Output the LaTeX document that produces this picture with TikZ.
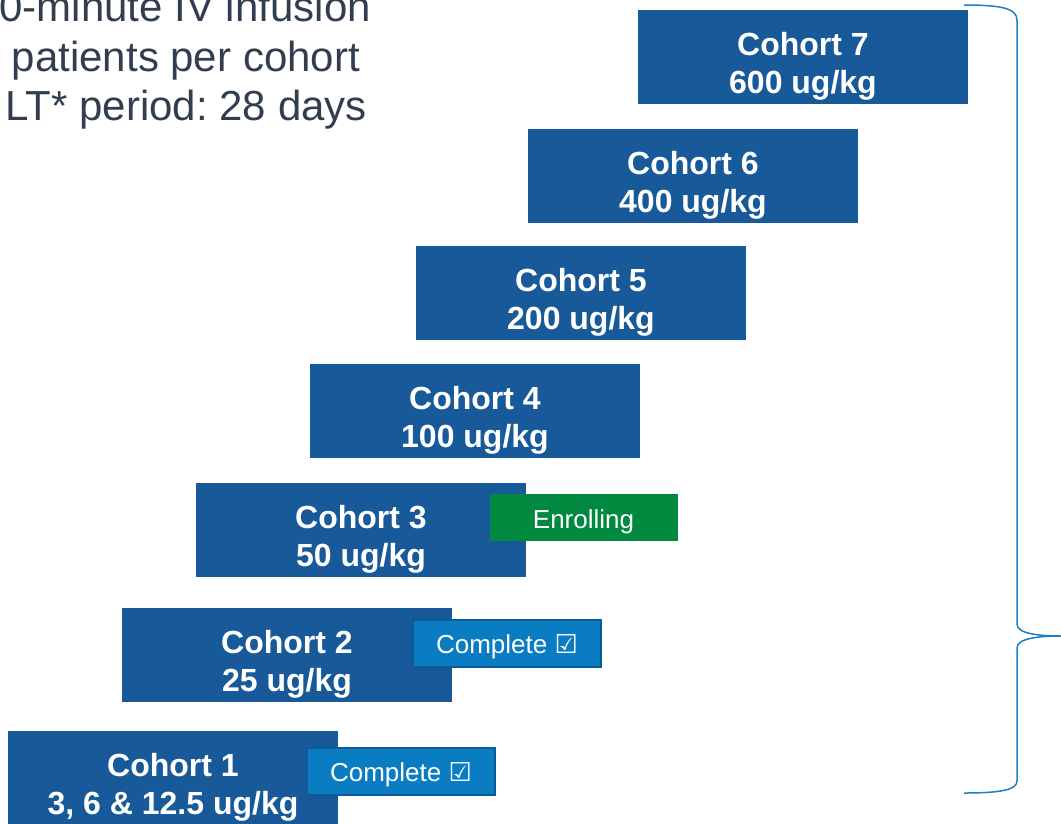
\documentclass[tikz,border=0pt]{standalone}
\usepackage{fontspec}
\setmainfont{Liberation Sans}
\newfontfamily\symfont{DejaVu Sans}
\frenchspacing
\definecolor{cohortblue}{HTML}{18599A}
\definecolor{completefill}{HTML}{0A7DC2}
\definecolor{completeborder}{HTML}{0B5C96}
\definecolor{enrollgreen}{HTML}{00893F}
\definecolor{topgray}{HTML}{323E4F}
\definecolor{bracecol}{HTML}{1B7FC6}
\begin{document}
\begin{tikzpicture}[x=1pt,y=-1pt,
  cohort/.style={fill=cohortblue, minimum width=330pt, minimum height=94pt, inner sep=0pt},
  cohorttext/.style={inner sep=0pt, text=white, font=\fontsize{32}{38}\selectfont\bfseries, align=center},
  statusbox/.style={minimum width=188pt, minimum height=47pt, inner sep=0pt, text=white,
    text height=25pt, text depth=4pt, font=\fontsize{26}{30}\selectfont},
  complete/.style={statusbox, fill=completefill, draw=completeborder, line width=2pt},
  enrolling/.style={statusbox, fill=enrollgreen},
  toptext/.style={anchor=base east, inner sep=0pt, text=topgray, font=\fontsize{42}{50}\selectfont\frenchspacing}]
\useasboundingbox (0,0) rectangle (1061,823);
\clip (0,0) rectangle (1061,823);
% top-left notes
\node[toptext] (t1) at (371,21) {0-minute IV infusion};
\node[toptext] (t2) at (360,71) {patients per cohort};
\node[toptext] (t3) at (367,120) {LT* period: 28 days};
% cohorts
\node[cohort] (c7) at (803,57) {};
\node[cohort] (c6) at (693,176) {};
\node[cohort] (c5) at (581,293) {};
\node[cohort] (c4) at (475,411) {};
\node[cohort] (c3) at (361,530) {};
\node[cohort] (c2) at (287,655) {};
\node[cohort] (c1) at (173,778) {};
\node[cohorttext] (c7t) at ([yshift=-9pt]c7.center) {Cohort 7\\600 ug/kg};
\node[cohorttext] (c6t) at ([yshift=-9pt]c6.center) {Cohort 6\\400 ug/kg};
\node[cohorttext] (c5t) at ([yshift=-9pt]c5.center) {Cohort 5\\200 ug/kg};
\node[cohorttext] (c4t) at ([yshift=-9pt]c4.center) {Cohort 4\\100 ug/kg};
\node[cohorttext] (c3t) at ([yshift=-9pt]c3.center) {Cohort 3\\50 ug/kg};
\node[cohorttext] (c2t) at ([yshift=-9pt]c2.center) {Cohort 2\\25 ug/kg};
\node[cohorttext] (c1t) at ([yshift=-9pt]c1.center) {Cohort 1\\3, 6 \& 12.5 ug/kg};
% status labels
\node[enrolling] (s3) at (583.5,517.5) {Enrolling};
\node[complete] (s2) at (507,643) {Complete {\symfont ☑}};
\node[complete] (s1) at (401,771) {Complete {\symfont ☑}};
% brace
\coordinate (btop) at (964,5);
\coordinate (btip) at (1061,636);
\coordinate (bbot) at (964,793);
\draw[bracecol, line width=1.5pt] (btop) .. controls (1000,5) and (1017,8) .. (1017,20)
  -- (1017,624) .. controls (1017,634) and (1040,636) .. (btip)
  (btip) .. controls (1040,636) and (1017,638) .. (1017,648)
  -- (1017,781) .. controls (1017,790) and (1000,793) .. (bbot);
\end{tikzpicture}
\end{document}
